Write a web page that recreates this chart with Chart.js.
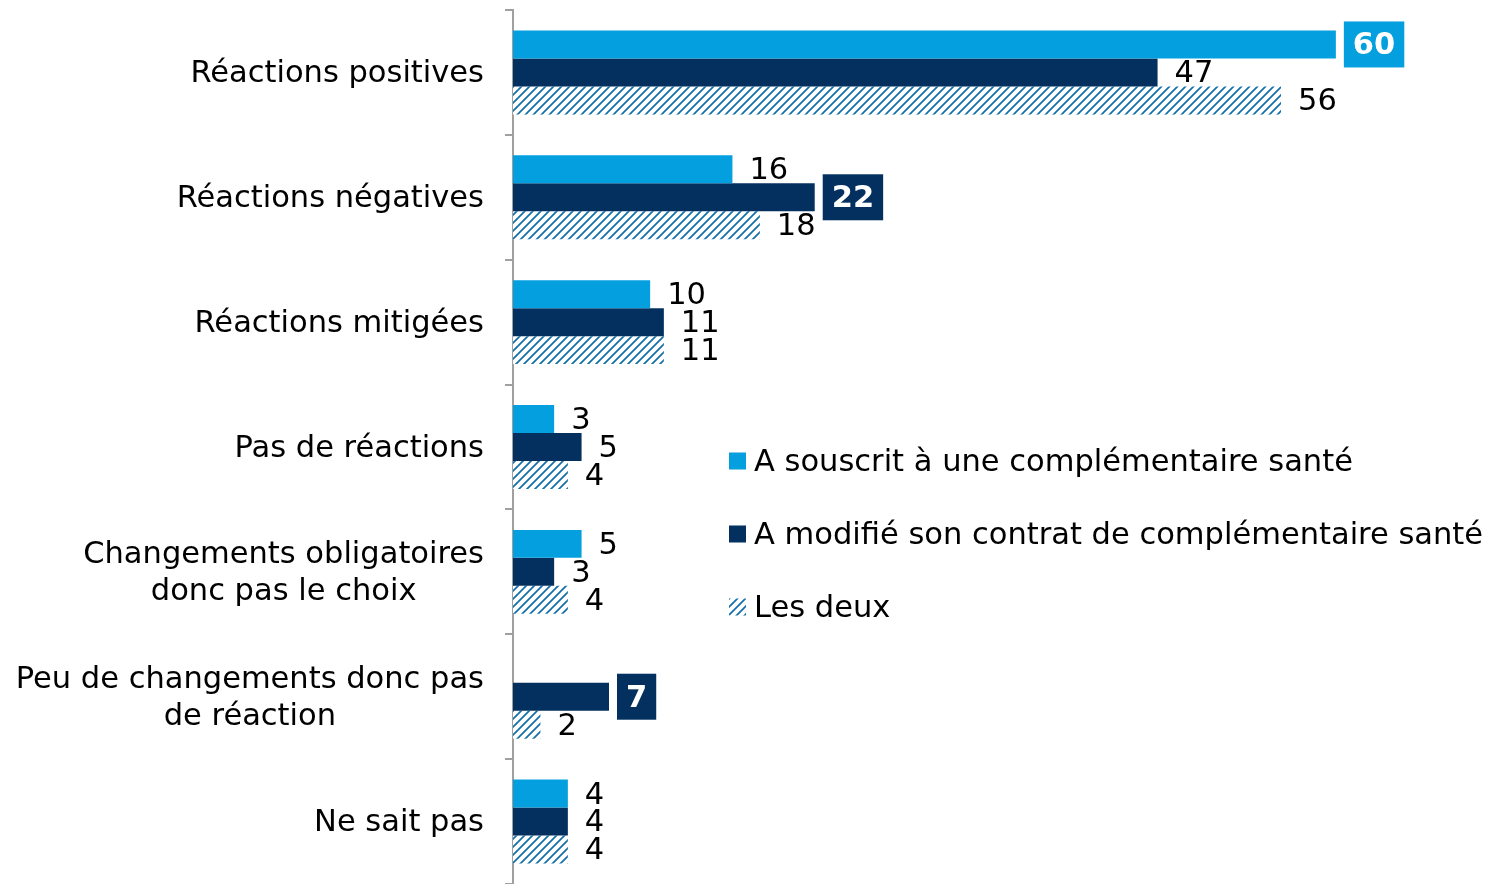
<!DOCTYPE html>
<html>
<head>
<meta charset="utf-8">
<script src="https://cdn.jsdelivr.net/npm/chart.js"></script>
<style>
  body { margin: 0; background: #fff; }
</style>
</head>
<body>
<canvas id="chart" width="1487" height="884"></canvas>
<script>
// categories (multi-line labels as arrays)
const categories = [
  ["Réactions positives"],
  ["Réactions négatives"],
  ["Réactions mitigées"],
  ["Pas de réactions"],
  ["Changements obligatoires", "donc pas le choix"],
  ["Peu de changements donc pas", "de réaction"],
  ["Ne sait pas"]
];
const seriesNames = [
  "A souscrit à une complémentaire santé",
  "A modifié son contrat de complémentaire santé",
  "Les deux"
];
const souscrit = [60, 16, 10, 3, 5, null, 4];
const modifie = [47, 22, 11, 5, 3, 7, 4];
const lesDeux = [56, 18, 11, 4, 4, 2, 4];
// [dataset, category] of values shown in a filled box
const highlighted = [[0, 0], [1, 1], [1, 5]];

const FONT = '"DejaVu Sans", Verdana, sans-serif';
const SIZE = "30.5px ";
const LIGHT = "#049fdf";
const NAVY = "#04305f";

function makeHatch() {
  const c = document.createElement("canvas");
  c.width = c.height = 8;
  const x = c.getContext("2d");
  x.fillStyle = "#fff";
  x.fillRect(0, 0, 8, 8);
  x.strokeStyle = "#116ea9";
  x.lineWidth = 1.7;
  x.beginPath();
  x.moveTo(-1, 9); x.lineTo(9, -1);
  x.moveTo(-1, 1); x.lineTo(1, -1);
  x.moveTo(7, 9); x.lineTo(9, 7);
  x.stroke();
  return x.createPattern(c, "repeat");
}
const hatch = makeHatch();

// category labels: right-aligned block, lines centred within it
const categoryLabels = {
  id: "categoryLabels",
  afterDraw(chart) {
    const { ctx } = chart;
    const y = chart.scales.y;
    ctx.save();
    ctx.font = SIZE + FONT;
    ctx.fillStyle = "#000";
    ctx.textAlign = "center";
    ctx.textBaseline = "middle";
    categories.forEach((lines, i) => {
      const cy = y.getPixelForValue(i) + 2;
      const w = Math.max(...lines.map(l => ctx.measureText(l).width));
      const cx = y.right - 29 - w / 2;
      lines.forEach((l, j) => {
        ctx.fillText(l, cx, cy + (j - (lines.length - 1) / 2) * 37);
      });
    });
    ctx.restore();
  }
};

// value labels at bar ends
const valueLabels = {
  id: "valueLabels",
  afterDatasetsDraw(chart) {
    const { ctx } = chart;
    ctx.save();
    ctx.textBaseline = "middle";
    chart.data.datasets.forEach((ds, di) => {
      const meta = chart.getDatasetMeta(di);
      meta.data.forEach((bar, i) => {
        const v = ds.data[i];
        if (v == null) return;
        const hl = highlighted.some(h => h[0] === di && h[1] === i);
        if (hl) {
          ctx.font = "bold " + SIZE + FONT;
          const w = ctx.measureText(String(v)).width + 18;
          ctx.fillStyle = ds.backgroundColor;
          ctx.fillRect(bar.x + 8, bar.y - 23, w, 46);
          ctx.fillStyle = "#fff";
          ctx.textAlign = "center";
          ctx.fillText(String(v), bar.x + 8 + w / 2, bar.y + 2);
        } else {
          ctx.font = SIZE + FONT;
          ctx.fillStyle = "#000";
          ctx.textAlign = "left";
          ctx.fillText(String(v), bar.x + 17, bar.y + 2);
        }
      });
    });
    ctx.restore();
  }
};

// legend drawn inside the plot area
const innerLegend = {
  id: "innerLegend",
  afterDraw(chart) {
    const { ctx, chartArea } = chart;
    const x0 = chartArea.left + 216;
    const y0 = 461;
    ctx.save();
    ctx.font = SIZE + FONT;
    ctx.textBaseline = "middle";
    ctx.textAlign = "left";
    chart.data.datasets.forEach((ds, i) => {
      const cy = y0 + i * 73;
      ctx.fillStyle = ds.backgroundColor;
      ctx.fillRect(x0, cy - 8.5, 17, 17);
      ctx.fillStyle = "#000";
      ctx.fillText(ds.label, x0 + 25, cy + 2);
    });
    ctx.restore();
  }
};

new Chart(document.getElementById("chart"), {
  type: "bar",
  data: {
    labels: categories,
    datasets: [
      { label: seriesNames[0], data: souscrit, backgroundColor: LIGHT },
      { label: seriesNames[1], data: modifie, backgroundColor: NAVY },
      { label: seriesNames[2], data: lesDeux, backgroundColor: hatch }
    ]
  },
  options: {
    indexAxis: "y",
    responsive: false,
    animation: false,
    devicePixelRatio: 1,
    datasets: {
      bar: { categoryPercentage: 0.672, barPercentage: 1, borderWidth: 0 }
    },
    layout: { padding: { top: 10, right: 14, left: 0, bottom: 0 } },
    plugins: { legend: { display: false }, tooltip: { enabled: false } },
    scales: {
      x: { display: false, min: 0, max: 70 },
      y: {
        grid: { offset: true, drawOnChartArea: false, tickLength: 8, color: "#a0a0a0", lineWidth: 2 },
        border: { color: "#a0a0a0", width: 2 },
        ticks: { display: false },
        afterFit(s) { s.width = 513; }
      }
    }
  },
  plugins: [categoryLabels, valueLabels, innerLegend]
});
</script>
</body>
</html>
